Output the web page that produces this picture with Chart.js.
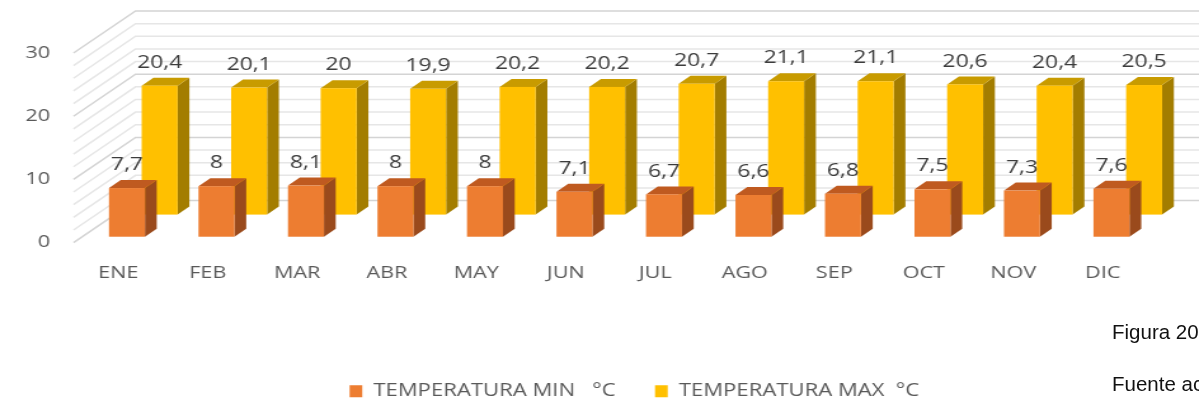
<!DOCTYPE html>
<html>
<head>
<meta charset="utf-8">
<script src="https://cdn.jsdelivr.net/npm/chart.js@4.4.1/dist/chart.umd.min.js"></script>
<style>
  html, body { margin: 0; padding: 0; background: #fff; overflow: hidden; }
  /* chart is laid out narrow and stretched sideways, like the pasted Excel figure */
  #wrap { position: absolute; left: 0; top: 0; width: 999px; height: 410px; transform: scaleX(1.2701); transform-origin: 0 0; }
  .note { position: absolute; left: 1112px; font-family: "Liberation Sans", Arial, sans-serif; font-size: 20.5px; line-height: 20px; color: #111; white-space: nowrap; }
</style>
</head>
<body>
<div id="wrap"><canvas id="tempChart"></canvas></div>
<div class="note" style="top: 322px;">Figura 20</div>
<div class="note" style="top: 374px;">Fuente ac</div>
<script>
const months = ['ENE', 'FEB', 'MAR', 'ABR', 'MAY', 'JUN', 'JUL', 'AGO', 'SEP', 'OCT', 'NOV', 'DIC'];
const tempMin = [7.7, 8, 8.1, 8, 8, 7.1, 6.7, 6.6, 6.8, 7.5, 7.3, 7.6];
const tempMax = [20.4, 20.1, 20, 19.9, 20.2, 20.2, 20.7, 21.1, 21.1, 20.6, 20.4, 20.5];
const seriesNames = ['TEMPERATURA MIN   °C', 'TEMPERATURA MAX  °C'];
const yTicks = [0, 10, 20, 30];

// fake 3D settings: depth of the floor, thickness of a bar, where each row sits
const DEPTH_X = 48.8;
const DEPTH_Y = 42;
const BAR_DEPTH = 0.19;
const ROW_DEPTH = [0.14, 0.667];
const GRID_STEP = 2;

const faces = [
    { front: '#ED7D31', top: '#BF5A20', side: '#9A4A1C' },
    { front: '#FFC000', top: '#C89B00', side: '#A37D00' }
];

const axisFont = { family: 'Open Sans', size: 17 };
const legendFont = { family: 'Open Sans', size: 17.4 };
const valueFont = { family: 'Open Sans', size: 18 };

function drawBar(ctx, bar, d, colors) {
    const ox = d * DEPTH_X;
    const oy = d * DEPTH_Y;
    const tx = BAR_DEPTH * DEPTH_X;
    const ty = BAR_DEPTH * DEPTH_Y;
    const xl = bar.x - bar.width / 2 + ox;
    const xr = bar.x + bar.width / 2 + ox;
    const yt = bar.y - oy;
    const yb = bar.base - oy;

    // side
    ctx.fillStyle = colors.side;
    ctx.beginPath();
    ctx.moveTo(xr, yt);
    ctx.lineTo(xr + tx, yt - ty);
    ctx.lineTo(xr + tx, yb - ty);
    ctx.lineTo(xr, yb);
    ctx.closePath();
    ctx.fill();

    // top
    ctx.fillStyle = colors.top;
    ctx.beginPath();
    ctx.moveTo(xl, yt);
    ctx.lineTo(xr, yt);
    ctx.lineTo(xr + tx, yt - ty);
    ctx.lineTo(xl + tx, yt - ty);
    ctx.closePath();
    ctx.fill();

    // front
    ctx.fillStyle = colors.front;
    ctx.fillRect(xl, yt, xr - xl, yb - yt);
}

const fake3d = {
    id: 'fake3d',
    beforeDatasetsDraw(chart) {
        // side wall and back wall grid
        const { ctx, chartArea, scales: { y } } = chart;
        ctx.save();
        ctx.lineWidth = 1.5;
        for (let v = y.min; v <= y.max; v += GRID_STEP) {
            const py = y.getPixelForValue(v);
            ctx.strokeStyle = v % 10 === 0 ? '#D4D4D4' : '#E6E6E6';
            ctx.beginPath();
            ctx.moveTo(chartArea.left, py);
            ctx.lineTo(chartArea.left + DEPTH_X, py - DEPTH_Y);
            ctx.lineTo(chart.width, py - DEPTH_Y);
            ctx.stroke();
        }
        ctx.restore();
    },
    beforeDatasetDraw() {
        // bars are painted by hand below
        return false;
    },
    afterDatasetsDraw(chart) {
        const { ctx } = chart;
        ctx.save();
        ctx.font = `${valueFont.size}px "${valueFont.family}"`;
        ctx.textAlign = 'center';
        ctx.textBaseline = 'middle';
        // back row first, then the front row over it
        for (let di = chart.data.datasets.length - 1; di >= 0; di--) {
            const meta = chart.getDatasetMeta(di);
            const values = chart.data.datasets[di].data;
            const d = ROW_DEPTH[di];
            meta.data.forEach(bar => drawBar(ctx, bar, d, faces[di]));
            ctx.fillStyle = '#3C3C3C';
            meta.data.forEach((bar, i) => {
                const label = String(values[i]).replace('.', ',');
                ctx.fillText(label, bar.x + d * DEPTH_X, bar.y - d * DEPTH_Y - 23);
            });
        }
        ctx.restore();
    }
};

const ctx = document.getElementById('tempChart').getContext('2d');
new Chart(ctx, {
    type: 'bar',
    data: {
        labels: months,
        datasets: [
            {
                label: seriesNames[0],
                data: tempMin,
                backgroundColor: faces[0].front,
                borderWidth: 0
            },
            {
                label: seriesNames[1],
                data: tempMax,
                backgroundColor: faces[1].front,
                borderWidth: 0
            }
        ]
    },
    options: {
        responsive: true,
        maintainAspectRatio: false,
        animation: false,
        layout: {
            padding: { left: 0, right: 0, top: 53, bottom: 0 }
        },
        datasets: {
            bar: {
                grouped: false,
                categoryPercentage: 1,
                barPercentage: 0.402
            }
        },
        plugins: {
            tooltip: { enabled: false },
            legend: {
                position: 'bottom',
                labels: {
                    font: legendFont,
                    color: '#595959',
                    boxWidth: 10,
                    boxHeight: 12,
                    padding: 31
                }
            }
        },
        scales: {
            x: {
                grid: { display: false, drawTicks: false },
                border: { display: false },
                ticks: {
                    font: axisFont,
                    color: '#595959',
                    padding: 20,
                    autoSkip: false,
                    maxRotation: 0
                },
                afterFit(scale) { scale.height = 109; }
            },
            y: {
                min: yTicks[0],
                max: yTicks[yTicks.length - 1],
                grid: { display: false, drawTicks: false },
                border: { display: false },
                ticks: {
                    stepSize: yTicks[1] - yTicks[0],
                    font: axisFont,
                    color: '#595959',
                    padding: 18.5
                },
                afterFit(scale) { scale.width = 57.9; }
            },
            // empty right axis: keeps the plot clear of the extra width on the right
            y2: {
                position: 'right',
                grid: { display: false, drawTicks: false },
                border: { display: false },
                ticks: { display: false },
                afterFit(scale) { scale.width = 95.5; }
            }
        }
    },
    plugins: [fake3d]
});
</script>
</body>
</html>
